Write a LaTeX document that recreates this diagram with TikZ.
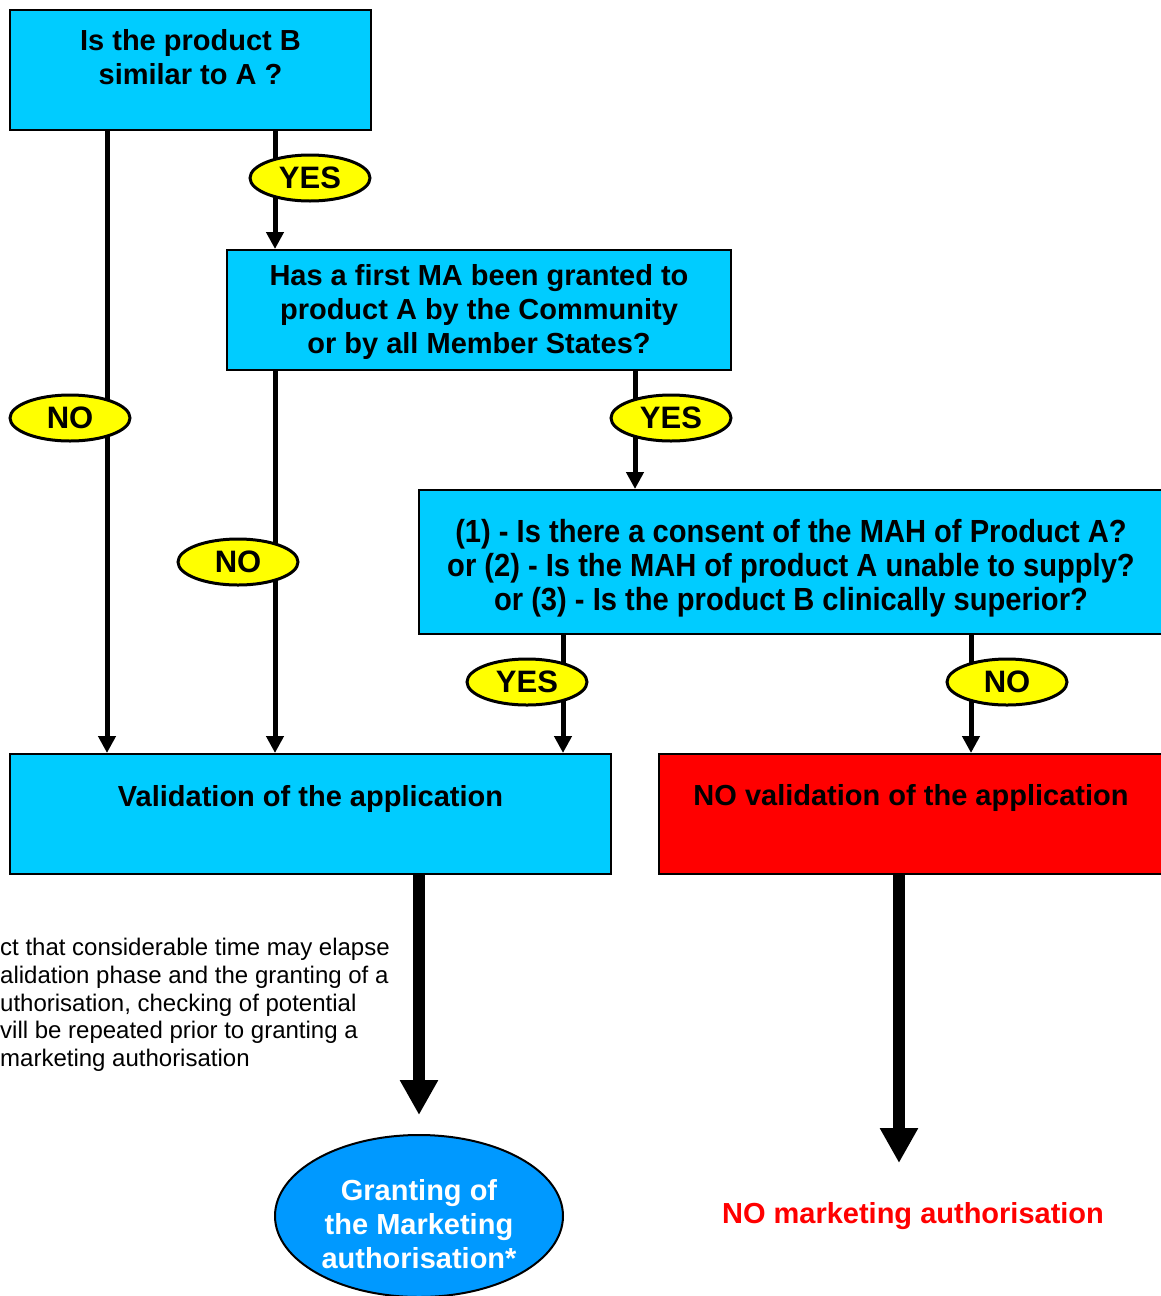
\documentclass[tikz,border=0pt]{standalone}
\usepackage{fontspec}
\setmainfont{Liberation Sans}
\newfontfamily\narrowfont[FakeStretch=0.91]{Liberation Sans}
\usetikzlibrary{arrows.meta,shapes.geometric}
\definecolor{boxblue}{RGB}{0,204,255}
\definecolor{ovalblue}{RGB}{0,153,255}
\definecolor{labyellow}{RGB}{255,255,0}
\definecolor{nored}{RGB}{255,0,0}
\begin{document}
\begin{tikzpicture}[x=1pt,y=-1pt,
  qbox/.style={draw=black, line width=2pt, inner sep=0pt},
  qtext/.style={align=center, inner sep=0pt, font=\fontsize{29}{34}\selectfont\bfseries},
  lbl/.style={ellipse, draw=black, line width=3pt, fill=labyellow, minimum width=120pt, minimum height=46pt, inner sep=0pt, font=\fontsize{31}{34}\selectfont\bfseries},
  thinarrow/.style={line width=5pt, -{Triangle[width=17pt,length=17pt]}},
  thickarrow/.style={line width=12pt, -{Triangle[width=36pt,length=35pt]}}
]
\useasboundingbox (0,0) rectangle (1161,1296);

% boxes
\node[qbox, fill=boxblue, minimum width=361pt, minimum height=120pt] (q1) at (190.5,70) {};
\node[qtext] (q1t) at (190.5,57) {Is the product B\\similar to A ?};

\node[qbox, fill=boxblue, minimum width=504pt, minimum height=120pt] (q2) at (479,310) {};
\node[qtext] (q2t) at (479,312) {Has a first MA been granted to\\product A by the Community\\or by all Member States?};

\node[qbox, fill=boxblue, minimum width=744pt, minimum height=144pt] (q3) at (791,562) {};
\node[qtext, font=\fontsize{32}{34}\selectfont\narrowfont\bfseries] (q3t) at (791,568) {(1) - Is there a consent of the MAH of Product A?\\or (2) - Is the MAH of product A unable to supply?\\or (3) - Is the product B clinically superior?};

\node[qbox, fill=boxblue, minimum width=601pt, minimum height=120pt] (va) at (310.5,814) {};
\node[qtext] (vat) at (310.5,799) {Validation of the application};

\node[qbox, fill=nored, minimum width=504pt, minimum height=120pt] (nv) at (911,814) {};
\node[qtext] (nvt) at (911,798) {NO validation of the application};

\node[ellipse, draw=black, line width=2pt, fill=ovalblue, minimum width=288pt, minimum height=162pt, inner sep=0pt] (gr) at (419,1216) {};
\node[qtext, text=white] (grt) at (419,1224) {Granting of\\the Marketing\\authorisation*};

\node[qtext, text=nored] (nm) at (913,1216) {NO marketing authorisation};

\node[anchor=west, align=left, inner sep=0pt, font=\fontsize{24}{27.75}\selectfont] (note) at (0,1005) {ct that considerable time may elapse\\alidation phase and the granting of a\\uthorisation, checking of potential\\vill be repeated prior to granting a\\marketing authorisation};

% connectors
\draw[thinarrow] (107,0 |- q1.south) -- (107,0 |- va.north);
\draw[thinarrow] (275,0 |- q1.south) -- (275,0 |- q2.north);
\draw[thinarrow] (275,0 |- q2.south) -- (275,0 |- va.north);
\draw[thinarrow] (635,0 |- q2.south) -- (635,0 |- q3.north);
\draw[thinarrow] (563,0 |- q3.south) -- (563,0 |- va.north);
\draw[thinarrow] (971,0 |- q3.south) -- (971,0 |- nv.north);

\coordinate (e1) at (419,1115);
\coordinate (e2) at (899,1163);
\draw[thickarrow] (419,0 |- va.south) -- (e1);
\draw[thickarrow] (899,0 |- nv.south) -- (e2);

% labels
\node[lbl] (y1) at (310,178) {YES};
\node[lbl] (n1) at (70,418) {NO};
\node[lbl] (y2) at (671,418) {YES};
\node[lbl] (n2) at (238,562) {NO};
\node[lbl] (y3) at (527,682) {YES};
\node[lbl] (n3) at (1007,682) {NO};
\end{tikzpicture}
\end{document}
